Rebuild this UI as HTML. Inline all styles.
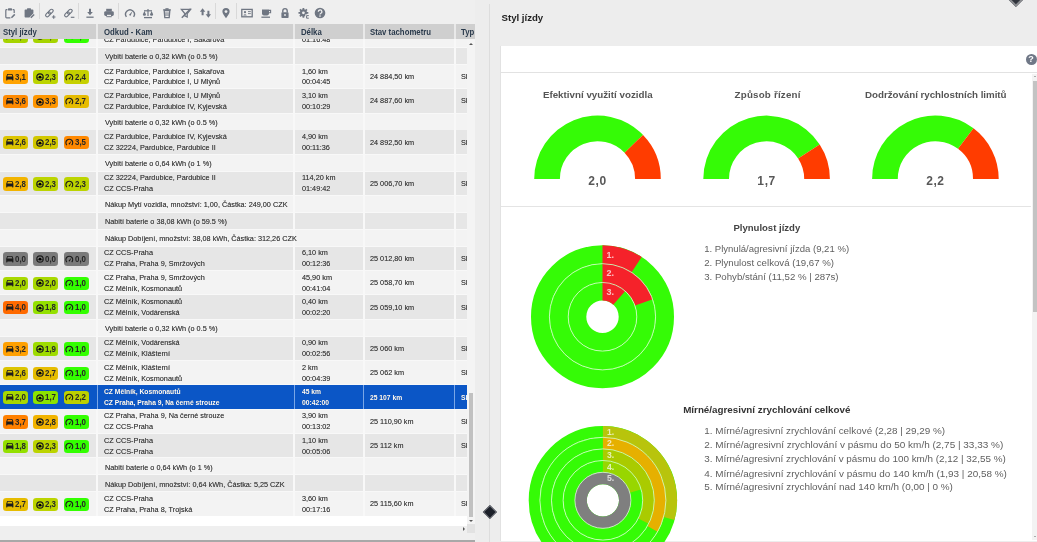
<!DOCTYPE html>
<html><head><meta charset="utf-8"><style>
*{box-sizing:border-box;margin:0;padding:0}
html,body{width:1037px;height:542px;overflow:hidden;background:#efefef;font-family:"Liberation Sans",sans-serif;position:relative}
.abs{position:absolute}
#root{position:absolute;left:0;top:0;width:1037px;height:542px;will-change:transform}
.ti{position:absolute;top:6.8px}
.tsep{position:absolute;top:3.2px;width:1px;height:15.6px;background:#d9d9d9}
#hdr{position:absolute;left:0;top:24.3px;width:475px;height:14.3px;background:#e9e9e9}
.hc{position:absolute;top:0;height:14.3px;background:#cfcfcf;overflow:hidden}
.hc span{position:absolute;top:3.4px;font-weight:bold;font-size:8.4px;color:#2a3a4c;white-space:nowrap;line-height:1;transform:scaleX(0.93);transform-origin:0 0}
#body{position:absolute;left:0;top:38.5px;width:467.3px;height:477.7px;overflow:hidden;background:#f8f8f8}
.row{position:absolute;left:0;width:467px}
.c{position:absolute;top:0;height:100%}
.l .c{background:#f3f3f3}
.d .c{background:#e6e6e6}
.sel{background:#0b56c6}
.sel .c{background:#0b56c6}
.sel .sp{position:absolute;top:0;height:100%;width:1px;background:#7aa6e6}
.t1{position:absolute;font-size:8px;color:#404040;text-shadow:0 0 0.35px rgba(40,40,40,0.6);white-space:nowrap;line-height:1;transform:scaleX(0.91);transform-origin:0 0}
.sel .t1{color:#fff;font-weight:bold;transform:scaleX(0.84)}
.bd{position:absolute;top:5.7px;width:25.2px;height:13.4px;border-radius:3.3px}
.bv{position:absolute;left:11.7px;top:2.3px;font-size:8.8px;font-weight:bold;color:#262626;line-height:1;transform:scaleX(0.9);transform-origin:0 0;white-space:nowrap}
.lg{position:absolute;left:704.2px;color:#5f5f5f;white-space:nowrap;line-height:1}
.dl{font-family:"Liberation Sans",sans-serif;font-weight:bold;fill:#fff;fill-opacity:0.72}
.gt{position:absolute;font-weight:bold;color:#555;white-space:nowrap;line-height:1}
.gv{position:absolute;font-weight:bold;font-size:12px;letter-spacing:0.6px;color:#585858;white-space:nowrap;line-height:1;transform:translateX(-50%)}
</style></head><body><div id="root">
<svg class="ti" style="left:4px" width="12" height="12" viewBox="0 0 12 12"><path d="M3.4 2.6 H2.6 A.8 .8 0 0 0 1.8 3.4 V10 A.8 .8 0 0 0 2.6 10.8 H6.4" fill="none" stroke="#6f7682" stroke-width="1.2"/><path d="M8.6 2.6 H9.4 A.8 .8 0 0 1 10.2 3.4 V6" fill="none" stroke="#6f7682" stroke-width="1.2"/><rect x="4" y="1.3" width="4" height="2.2" rx=".6" fill="#6f7682"/><path d="M7.4 10.8 L10.8 7.4" stroke="#6f7682" stroke-width="1.5"/></svg><svg class="ti" style="left:22.6px" width="12" height="12" viewBox="0 0 12 12"><path d="M1.6 3.2 A.8 .8 0 0 1 2.4 2.4 H9.6 A.8 .8 0 0 1 10.4 3.2 V6.2 L6.4 10.6 H2.4 A.8 .8 0 0 1 1.6 9.8 Z" fill="#6f7682"/><rect x="4" y="1.2" width="4" height="2" rx=".6" fill="#6f7682"/><path d="M7.8 10.8 L11.2 7.4" stroke="#6f7682" stroke-width="1.4"/></svg><svg class="ti" style="left:43.8px" width="12" height="12" viewBox="0 0 12 12"><g transform="rotate(45 5.4 6)"><rect x="3.8" y="1.3" width="3.2" height="5.6" rx="1.6" fill="none" stroke="#6f7682" stroke-width="1.15"/><rect x="3.8" y="5.1" width="3.2" height="5.6" rx="1.6" fill="none" stroke="#6f7682" stroke-width="1.15"/></g><path d="M9.7 8.2 V11.8 M7.9 10 H11.5" stroke="#6f7682" stroke-width="1.15"/></svg><svg class="ti" style="left:63px" width="12" height="12" viewBox="0 0 12 12"><g transform="rotate(45 5.4 6)"><rect x="3.8" y="1.3" width="3.2" height="5.6" rx="1.6" fill="none" stroke="#6f7682" stroke-width="1.15"/><rect x="3.8" y="5.1" width="3.2" height="5.6" rx="1.6" fill="none" stroke="#6f7682" stroke-width="1.15"/></g><path d="M7.8 10.3 H11.4" stroke="#6f7682" stroke-width="1.15"/></svg><svg class="ti" style="left:83.6px" width="12" height="12" viewBox="0 0 12 12"><path d="M6 1.8 V6" stroke="#6f7682" stroke-width="2"/><path d="M3.2 5 L6 8.2 L8.8 5 Z" fill="#6f7682"/><path d="M2.4 10.2 H9.6" stroke="#6f7682" stroke-width="1.3"/></svg><svg class="ti" style="left:102.5px" width="12" height="12" viewBox="0 0 12 12"><rect x="3.2" y="1.8" width="5.6" height="2.8" fill="#6f7682"/><rect x="1.2" y="4.2" width="9.6" height="4.8" rx="1.4" fill="#6f7682"/><rect x="3.4" y="7.4" width="5.2" height="2.8" fill="#6f7682"/><rect x="4" y="7.8" width="4" height="1.4" fill="#efefef"/></svg><svg class="ti" style="left:123.69999999999999px" width="12" height="12" viewBox="0 0 12 12"><path d="M2.4 9.8 A4.4 4.4 0 1 1 9.6 9.8" fill="none" stroke="#6f7682" stroke-width="1.4"/><path d="M4.9 8 L8.6 4 L6.6 8.8 Z" fill="#6f7682"/></svg><svg class="ti" style="left:142.2px" width="12" height="12" viewBox="0 0 12 12"><path d="M6 2 V9" stroke="#6f7682" stroke-width="1.2"/><path d="M2 3.8 H10" stroke="#6f7682" stroke-width="1.2"/><path d="M0.8 7.4 A1.6 1.4 0 0 0 4 7.4 L2.4 4 Z M8 7.4 A1.6 1.4 0 0 0 11.2 7.4 L9.6 4 Z" fill="#6f7682"/><path d="M2 10.6 H10" stroke="#6f7682" stroke-width="1.3"/></svg><svg class="ti" style="left:161.3px" width="12" height="12" viewBox="0 0 12 12"><path d="M3.2 3.6 H8.8 L8.2 10.6 H3.8 Z" fill="none" stroke="#6f7682" stroke-width="1.3"/><path d="M2.2 2.8 H9.8" stroke="#6f7682" stroke-width="1.3"/><rect x="4.4" y="1.2" width="3.2" height="1.4" fill="#6f7682"/><path d="M5 5.2 V9 M7 5.2 V9" stroke="#6f7682" stroke-width="1"/></svg><svg class="ti" style="left:179.9px" width="12" height="12" viewBox="0 0 12 12"><path d="M1.4 2.4 H10.6 L7.2 6.6 V10 L4.8 8.8 V6.6 Z" fill="none" stroke="#6f7682" stroke-width="1.3"/><path d="M1.8 10.8 L10.6 1.8" stroke="#6f7682" stroke-width="1.5"/></svg><svg class="ti" style="left:199.3px" width="12" height="12" viewBox="0 0 12 12"><path d="M3.6 1.2 L0.9 4.8 H2.6 V8.2 H4.6 V4.8 H6.3 Z M8.4 3.8 V7.2 H6.7 L9.4 10.8 L12.1 7.2 H10.4 V3.8 Z" fill="#6f7682"/></svg><svg class="ti" style="left:220px" width="12" height="12" viewBox="0 0 12 12"><path d="M6 11.2 C4 8.4 2.4 6.8 2.4 4.6 A3.6 3.6 0 0 1 9.6 4.6 C9.6 6.8 8 8.4 6 11.2 Z" fill="#6f7682"/><circle cx="6" cy="4.6" r="1.4" fill="#efefef"/></svg><svg class="ti" style="left:241px" width="12" height="12" viewBox="0 0 12 12"><rect x="0.8" y="2.4" width="10.4" height="7.4" fill="none" stroke="#6f7682" stroke-width="1.3"/><circle cx="4" cy="5.2" r="1.1" fill="#6f7682"/><path d="M2.2 8.6 Q4 6 5.8 8.6 Z" fill="#6f7682"/><path d="M7 4.6 H9.8 M7 6.6 H9.8" stroke="#6f7682" stroke-width=".9"/></svg><svg class="ti" style="left:259.7px" width="12" height="12" viewBox="0 0 12 12"><path d="M2 2.4 H9 V6.8 A2 2 0 0 1 7 8.6 H4 A2 2 0 0 1 2 6.8 Z" fill="#6f7682"/><path d="M9 3.4 H10.6 V5.8 H9" fill="none" stroke="#6f7682" stroke-width="1.1"/><path d="M1.4 10.2 H10" stroke="#6f7682" stroke-width="1.3"/></svg><svg class="ti" style="left:279px" width="12" height="12" viewBox="0 0 12 12"><path d="M3.8 5.4 V3.8 A2.2 2.2 0 0 1 8.2 3.8 V5.4" fill="none" stroke="#6f7682" stroke-width="1.4"/><rect x="2.4" y="5.2" width="7.2" height="5.8" rx=".8" fill="#6f7682"/><circle cx="6" cy="8" r=".9" fill="#efefef"/></svg><svg class="ti" style="left:298px" width="12" height="12" viewBox="0 0 12 12"><path d="M4.52 2.21 L4.52 0.88 L6.28 0.88 L6.28 2.21 L7.32 2.64 L8.26 1.70 L9.50 2.94 L8.56 3.88 L8.99 4.92 L10.32 4.92 L10.32 6.68 L8.99 6.68 L8.56 7.72 L9.50 8.66 L8.26 9.90 L7.32 8.96 L6.28 9.39 L6.28 10.72 L4.52 10.72 L4.52 9.39 L3.48 8.96 L2.54 9.90 L1.30 8.66 L2.24 7.72 L1.81 6.68 L0.48 6.68 L0.48 4.92 L1.81 4.92 L2.24 3.88 L1.30 2.94 L2.54 1.70 L3.48 2.64 Z" fill="#6f7682"/><circle cx="5.4" cy="5.8" r="1.4" fill="#efefef"/><rect x="7.2" y="7.4" width="5" height="5" fill="#efefef"/><path d="M10.8 8.6 H8.6 V11.2 H10.8" fill="none" stroke="#6f7682" stroke-width="1"/></svg><svg class="ti" style="left:314.2px" width="12" height="12" viewBox="0 0 12 12"><circle cx="6" cy="6" r="5.3" fill="#6f7682"/><path d="M4.3 4.8 A1.8 1.8 0 1 1 6.6 6.5 Q6 6.8 6 7.6" fill="none" stroke="#efefef" stroke-width="1.3"/><circle cx="6" cy="9.1" r=".8" fill="#efefef"/></svg>
<div class="tsep" style="left:38.6px"></div><div class="tsep" style="left:78.4px"></div><div class="tsep" style="left:118.2px"></div><div class="tsep" style="left:214.8px"></div><div class="tsep" style="left:235.8px"></div>
<div id="hdr">
 <div class="hc" style="left:0;width:95.9px"><span style="left:2.5px">Styl jízdy</span></div>
 <div class="hc" style="left:98.1px;width:195.3px"><span style="left:5.6px">Odkud - Kam</span></div>
 <div class="hc" style="left:295.3px;width:67.4px"><span style="left:5.8px">Délka</span></div>
 <div class="hc" style="left:364.7px;width:89px"><span style="left:5.3px">Stav tachometru</span></div>
 <div class="hc" style="left:455.7px;width:19.1px"><span style="left:5.6px">Typ</span></div>
</div>
<div id="body">
<div class="row l" style="top:-14.95px;height:23.45px"><div class="c" style="left:0px;width:95.9px"></div><div class="c" style="left:98.1px;width:195.29999999999998px"></div><div class="c" style="left:295.3px;width:67.39999999999998px"></div><div class="c" style="left:364.7px;width:89.0px"></div><div class="c" style="left:455.7px;width:11.600000000000023px"></div><div class="bd" style="left:3.3px;background:#a6d400"><svg width="9.6" height="9.6" viewBox="0 0 24 24" style="position:absolute;left:1.3px;top:1.3px"><path fill-rule="evenodd" d="M18.92 6.01C18.72 5.42 18.16 5 17.5 5h-11c-.66 0-1.21.42-1.42 1.01L3 12v8c0 .55.45 1 1 1h1c.55 0 1-.45 1-1v-1h12v1c0 .55.45 1 1 1h1c.55 0 1-.45 1-1v-8l-2.08-5.99zM5.6 11l1.5-4.2h9.8L18.4 11H5.6z" fill="#1c1c1c"/></svg><span class="bv">2,0</span></div><div class="bd" style="left:33.2px;background:#a6d400"><svg width="8" height="8" viewBox="0 0 10 10" style="position:absolute;left:2.7px;top:2.7px"><circle cx="5" cy="5" r="4" fill="none" stroke="#1c1c1c" stroke-width="1.5"/><circle cx="5" cy="5.2" r="1.8" fill="#000"/><path d="M1 6 H3.4 M6.6 6 H9" stroke="#1c1c1c" stroke-width="1"/></svg><span class="bv">2,0</span></div><div class="bd" style="left:63.8px;background:#33ff00"><svg width="8.6" height="8.6" viewBox="0 0 10 10" style="position:absolute;left:1.7px;top:2.4px"><path d="M2.2 8.3 A4 4 0 1 1 7.8 8.3" fill="none" stroke="#1c1c1c" stroke-width="1.3"/><path d="M3.9 6.9 L7.4 3.2 L5.6 7.5 Z" fill="#111"/></svg><span class="bv">1,0</span></div><div class="t1" style="left:104.3px;top:1.70px">CZ Pardubice, Pardubice II</div><div class="t1" style="left:104.3px;top:12.50px">CZ Pardubice, Pardubice I, Sakařova</div><div class="t1" style="left:301.5px;top:1.70px">1,60 km</div><div class="t1" style="left:301.5px;top:12.50px">01:16:48</div></div>
<div class="row d" style="top:9.40px;height:16.00px"><div class="c" style="left:0px;width:95.9px"></div><div class="c" style="left:98.1px;width:195.29999999999998px"></div><div class="c" style="left:295.3px;width:67.39999999999998px"></div><div class="c" style="left:364.7px;width:89.0px"></div><div class="c" style="left:455.7px;width:11.600000000000023px"></div><div class="t1" style="left:104.6px;top:5.45px">Vybití baterie o 0,32 kWh (o 0.5 %)</div></div>
<div class="row l" style="top:26.30px;height:23.45px"><div class="c" style="left:0px;width:95.9px"></div><div class="c" style="left:98.1px;width:195.29999999999998px"></div><div class="c" style="left:295.3px;width:67.39999999999998px"></div><div class="c" style="left:364.7px;width:89.0px"></div><div class="c" style="left:455.7px;width:11.600000000000023px"></div><div class="bd" style="left:3.3px;background:#ffa300"><svg width="9.6" height="9.6" viewBox="0 0 24 24" style="position:absolute;left:1.3px;top:1.3px"><path fill-rule="evenodd" d="M18.92 6.01C18.72 5.42 18.16 5 17.5 5h-11c-.66 0-1.21.42-1.42 1.01L3 12v8c0 .55.45 1 1 1h1c.55 0 1-.45 1-1v-1h12v1c0 .55.45 1 1 1h1c.55 0 1-.45 1-1v-8l-2.08-5.99zM5.6 11l1.5-4.2h9.8L18.4 11H5.6z" fill="#1c1c1c"/></svg><span class="bv">3,1</span></div><div class="bd" style="left:33.2px;background:#bcd400"><svg width="8" height="8" viewBox="0 0 10 10" style="position:absolute;left:2.7px;top:2.7px"><circle cx="5" cy="5" r="4" fill="none" stroke="#1c1c1c" stroke-width="1.5"/><circle cx="5" cy="5.2" r="1.8" fill="#000"/><path d="M1 6 H3.4 M6.6 6 H9" stroke="#1c1c1c" stroke-width="1"/></svg><span class="bv">2,3</span></div><div class="bd" style="left:63.8px;background:#c6d000"><svg width="8.6" height="8.6" viewBox="0 0 10 10" style="position:absolute;left:1.7px;top:2.4px"><path d="M2.2 8.3 A4 4 0 1 1 7.8 8.3" fill="none" stroke="#1c1c1c" stroke-width="1.3"/><path d="M3.9 6.9 L7.4 3.2 L5.6 7.5 Z" fill="#111"/></svg><span class="bv">2,4</span></div><div class="t1" style="left:104.3px;top:2.80px">CZ Pardubice, Pardubice I, Sakařova</div><div class="t1" style="left:104.3px;top:13.60px">CZ Pardubice, Pardubice I, U Mlýnů</div><div class="t1" style="left:301.5px;top:2.80px">1,60 km</div><div class="t1" style="left:301.5px;top:13.60px">00:04:45</div><div class="t1" style="left:370.4px;top:8.20px">24 884,50 km</div><div class="t1" style="left:461.2px;top:8.20px">Sl</div></div>
<div class="row d" style="top:50.65px;height:23.45px"><div class="c" style="left:0px;width:95.9px"></div><div class="c" style="left:98.1px;width:195.29999999999998px"></div><div class="c" style="left:295.3px;width:67.39999999999998px"></div><div class="c" style="left:364.7px;width:89.0px"></div><div class="c" style="left:455.7px;width:11.600000000000023px"></div><div class="bd" style="left:3.3px;background:#ff8a00"><svg width="9.6" height="9.6" viewBox="0 0 24 24" style="position:absolute;left:1.3px;top:1.3px"><path fill-rule="evenodd" d="M18.92 6.01C18.72 5.42 18.16 5 17.5 5h-11c-.66 0-1.21.42-1.42 1.01L3 12v8c0 .55.45 1 1 1h1c.55 0 1-.45 1-1v-1h12v1c0 .55.45 1 1 1h1c.55 0 1-.45 1-1v-8l-2.08-5.99zM5.6 11l1.5-4.2h9.8L18.4 11H5.6z" fill="#1c1c1c"/></svg><span class="bv">3,6</span></div><div class="bd" style="left:33.2px;background:#ff9600"><svg width="8" height="8" viewBox="0 0 10 10" style="position:absolute;left:2.7px;top:2.7px"><circle cx="5" cy="5" r="4" fill="none" stroke="#1c1c1c" stroke-width="1.5"/><circle cx="5" cy="5.2" r="1.8" fill="#000"/><path d="M1 6 H3.4 M6.6 6 H9" stroke="#1c1c1c" stroke-width="1"/></svg><span class="bv">3,3</span></div><div class="bd" style="left:63.8px;background:#e6bc00"><svg width="8.6" height="8.6" viewBox="0 0 10 10" style="position:absolute;left:1.7px;top:2.4px"><path d="M2.2 8.3 A4 4 0 1 1 7.8 8.3" fill="none" stroke="#1c1c1c" stroke-width="1.3"/><path d="M3.9 6.9 L7.4 3.2 L5.6 7.5 Z" fill="#111"/></svg><span class="bv">2,7</span></div><div class="t1" style="left:104.3px;top:2.80px">CZ Pardubice, Pardubice I, U Mlýnů</div><div class="t1" style="left:104.3px;top:13.60px">CZ Pardubice, Pardubice IV, Kyjevská</div><div class="t1" style="left:301.5px;top:2.80px">3,10 km</div><div class="t1" style="left:301.5px;top:13.60px">00:10:29</div><div class="t1" style="left:370.4px;top:8.20px">24 887,60 km</div><div class="t1" style="left:461.2px;top:8.20px">Sl</div></div>
<div class="row l" style="top:75.00px;height:16.00px"><div class="c" style="left:0px;width:95.9px"></div><div class="c" style="left:98.1px;width:195.29999999999998px"></div><div class="c" style="left:295.3px;width:67.39999999999998px"></div><div class="c" style="left:364.7px;width:89.0px"></div><div class="c" style="left:455.7px;width:11.600000000000023px"></div><div class="t1" style="left:104.6px;top:5.45px">Vybití baterie o 0,32 kWh (o 0.5 %)</div></div>
<div class="row d" style="top:91.90px;height:23.45px"><div class="c" style="left:0px;width:95.9px"></div><div class="c" style="left:98.1px;width:195.29999999999998px"></div><div class="c" style="left:295.3px;width:67.39999999999998px"></div><div class="c" style="left:364.7px;width:89.0px"></div><div class="c" style="left:455.7px;width:11.600000000000023px"></div><div class="bd" style="left:3.3px;background:#dcc400"><svg width="9.6" height="9.6" viewBox="0 0 24 24" style="position:absolute;left:1.3px;top:1.3px"><path fill-rule="evenodd" d="M18.92 6.01C18.72 5.42 18.16 5 17.5 5h-11c-.66 0-1.21.42-1.42 1.01L3 12v8c0 .55.45 1 1 1h1c.55 0 1-.45 1-1v-1h12v1c0 .55.45 1 1 1h1c.55 0 1-.45 1-1v-8l-2.08-5.99zM5.6 11l1.5-4.2h9.8L18.4 11H5.6z" fill="#1c1c1c"/></svg><span class="bv">2,6</span></div><div class="bd" style="left:33.2px;background:#d2c800"><svg width="8" height="8" viewBox="0 0 10 10" style="position:absolute;left:2.7px;top:2.7px"><circle cx="5" cy="5" r="4" fill="none" stroke="#1c1c1c" stroke-width="1.5"/><circle cx="5" cy="5.2" r="1.8" fill="#000"/><path d="M1 6 H3.4 M6.6 6 H9" stroke="#1c1c1c" stroke-width="1"/></svg><span class="bv">2,5</span></div><div class="bd" style="left:63.8px;background:#ff8800"><svg width="8.6" height="8.6" viewBox="0 0 10 10" style="position:absolute;left:1.7px;top:2.4px"><path d="M2.2 8.3 A4 4 0 1 1 7.8 8.3" fill="none" stroke="#1c1c1c" stroke-width="1.3"/><path d="M3.9 6.9 L7.4 3.2 L5.6 7.5 Z" fill="#111"/></svg><span class="bv">3,5</span></div><div class="t1" style="left:104.3px;top:2.80px">CZ Pardubice, Pardubice IV, Kyjevská</div><div class="t1" style="left:104.3px;top:13.60px">CZ 32224, Pardubice, Pardubice II</div><div class="t1" style="left:301.5px;top:2.80px">4,90 km</div><div class="t1" style="left:301.5px;top:13.60px">00:11:36</div><div class="t1" style="left:370.4px;top:8.20px">24 892,50 km</div><div class="t1" style="left:461.2px;top:8.20px">Sl</div></div>
<div class="row l" style="top:116.25px;height:16.00px"><div class="c" style="left:0px;width:95.9px"></div><div class="c" style="left:98.1px;width:195.29999999999998px"></div><div class="c" style="left:295.3px;width:67.39999999999998px"></div><div class="c" style="left:364.7px;width:89.0px"></div><div class="c" style="left:455.7px;width:11.600000000000023px"></div><div class="t1" style="left:104.6px;top:5.45px">Vybití baterie o 0,64 kWh (o 1 %)</div></div>
<div class="row d" style="top:133.15px;height:23.45px"><div class="c" style="left:0px;width:95.9px"></div><div class="c" style="left:98.1px;width:195.29999999999998px"></div><div class="c" style="left:295.3px;width:67.39999999999998px"></div><div class="c" style="left:364.7px;width:89.0px"></div><div class="c" style="left:455.7px;width:11.600000000000023px"></div><div class="bd" style="left:3.3px;background:#f2b400"><svg width="9.6" height="9.6" viewBox="0 0 24 24" style="position:absolute;left:1.3px;top:1.3px"><path fill-rule="evenodd" d="M18.92 6.01C18.72 5.42 18.16 5 17.5 5h-11c-.66 0-1.21.42-1.42 1.01L3 12v8c0 .55.45 1 1 1h1c.55 0 1-.45 1-1v-1h12v1c0 .55.45 1 1 1h1c.55 0 1-.45 1-1v-8l-2.08-5.99zM5.6 11l1.5-4.2h9.8L18.4 11H5.6z" fill="#1c1c1c"/></svg><span class="bv">2,8</span></div><div class="bd" style="left:33.2px;background:#bcd400"><svg width="8" height="8" viewBox="0 0 10 10" style="position:absolute;left:2.7px;top:2.7px"><circle cx="5" cy="5" r="4" fill="none" stroke="#1c1c1c" stroke-width="1.5"/><circle cx="5" cy="5.2" r="1.8" fill="#000"/><path d="M1 6 H3.4 M6.6 6 H9" stroke="#1c1c1c" stroke-width="1"/></svg><span class="bv">2,3</span></div><div class="bd" style="left:63.8px;background:#bcd400"><svg width="8.6" height="8.6" viewBox="0 0 10 10" style="position:absolute;left:1.7px;top:2.4px"><path d="M2.2 8.3 A4 4 0 1 1 7.8 8.3" fill="none" stroke="#1c1c1c" stroke-width="1.3"/><path d="M3.9 6.9 L7.4 3.2 L5.6 7.5 Z" fill="#111"/></svg><span class="bv">2,3</span></div><div class="t1" style="left:104.3px;top:2.80px">CZ 32224, Pardubice, Pardubice II</div><div class="t1" style="left:104.3px;top:13.60px">CZ CCS-Praha</div><div class="t1" style="left:301.5px;top:2.80px">114,20 km</div><div class="t1" style="left:301.5px;top:13.60px">01:49:42</div><div class="t1" style="left:370.4px;top:8.20px">25 006,70 km</div><div class="t1" style="left:461.2px;top:8.20px">Sl</div></div>
<div class="row l" style="top:157.50px;height:16.00px"><div class="c" style="left:0px;width:95.9px"></div><div class="c" style="left:98.1px;width:195.29999999999998px"></div><div class="c" style="left:295.3px;width:67.39999999999998px"></div><div class="c" style="left:364.7px;width:89.0px"></div><div class="c" style="left:455.7px;width:11.600000000000023px"></div><div class="t1" style="left:104.6px;top:5.45px">Nákup Mytí vozidla, množství: 1,00, Částka: 249,00 CZK</div></div>
<div class="row d" style="top:174.40px;height:16.00px"><div class="c" style="left:0px;width:95.9px"></div><div class="c" style="left:98.1px;width:195.29999999999998px"></div><div class="c" style="left:295.3px;width:67.39999999999998px"></div><div class="c" style="left:364.7px;width:89.0px"></div><div class="c" style="left:455.7px;width:11.600000000000023px"></div><div class="t1" style="left:104.6px;top:5.45px">Nabití baterie o 38,08 kWh (o 59.5 %)</div></div>
<div class="row l" style="top:191.30px;height:16.00px"><div class="c" style="left:0px;width:95.9px"></div><div class="c" style="left:98.1px;width:195.29999999999998px"></div><div class="c" style="left:295.3px;width:67.39999999999998px"></div><div class="c" style="left:364.7px;width:89.0px"></div><div class="c" style="left:455.7px;width:11.600000000000023px"></div><div class="t1" style="left:104.6px;top:5.45px">Nákup Dobíjení, množství: 38,08 kWh, Částka: 312,26 CZK</div></div>
<div class="row d" style="top:208.20px;height:23.45px"><div class="c" style="left:0px;width:95.9px"></div><div class="c" style="left:98.1px;width:195.29999999999998px"></div><div class="c" style="left:295.3px;width:67.39999999999998px"></div><div class="c" style="left:364.7px;width:89.0px"></div><div class="c" style="left:455.7px;width:11.600000000000023px"></div><div class="bd" style="left:3.3px;background:#7b7b7b"><svg width="9.6" height="9.6" viewBox="0 0 24 24" style="position:absolute;left:1.3px;top:1.3px"><path fill-rule="evenodd" d="M18.92 6.01C18.72 5.42 18.16 5 17.5 5h-11c-.66 0-1.21.42-1.42 1.01L3 12v8c0 .55.45 1 1 1h1c.55 0 1-.45 1-1v-1h12v1c0 .55.45 1 1 1h1c.55 0 1-.45 1-1v-8l-2.08-5.99zM5.6 11l1.5-4.2h9.8L18.4 11H5.6z" fill="#1c1c1c"/></svg><span class="bv">0,0</span></div><div class="bd" style="left:33.2px;background:#7b7b7b"><svg width="8" height="8" viewBox="0 0 10 10" style="position:absolute;left:2.7px;top:2.7px"><circle cx="5" cy="5" r="4" fill="none" stroke="#1c1c1c" stroke-width="1.5"/><circle cx="5" cy="5.2" r="1.8" fill="#000"/><path d="M1 6 H3.4 M6.6 6 H9" stroke="#1c1c1c" stroke-width="1"/></svg><span class="bv">0,0</span></div><div class="bd" style="left:63.8px;background:#7b7b7b"><svg width="8.6" height="8.6" viewBox="0 0 10 10" style="position:absolute;left:1.7px;top:2.4px"><path d="M2.2 8.3 A4 4 0 1 1 7.8 8.3" fill="none" stroke="#1c1c1c" stroke-width="1.3"/><path d="M3.9 6.9 L7.4 3.2 L5.6 7.5 Z" fill="#111"/></svg><span class="bv">0,0</span></div><div class="t1" style="left:104.3px;top:2.80px">CZ CCS-Praha</div><div class="t1" style="left:104.3px;top:13.60px">CZ Praha, Praha 9, Smržových</div><div class="t1" style="left:301.5px;top:2.80px">6,10 km</div><div class="t1" style="left:301.5px;top:13.60px">00:12:36</div><div class="t1" style="left:370.4px;top:8.20px">25 012,80 km</div><div class="t1" style="left:461.2px;top:8.20px">Sl</div></div>
<div class="row l" style="top:232.55px;height:23.45px"><div class="c" style="left:0px;width:95.9px"></div><div class="c" style="left:98.1px;width:195.29999999999998px"></div><div class="c" style="left:295.3px;width:67.39999999999998px"></div><div class="c" style="left:364.7px;width:89.0px"></div><div class="c" style="left:455.7px;width:11.600000000000023px"></div><div class="bd" style="left:3.3px;background:#a8d800"><svg width="9.6" height="9.6" viewBox="0 0 24 24" style="position:absolute;left:1.3px;top:1.3px"><path fill-rule="evenodd" d="M18.92 6.01C18.72 5.42 18.16 5 17.5 5h-11c-.66 0-1.21.42-1.42 1.01L3 12v8c0 .55.45 1 1 1h1c.55 0 1-.45 1-1v-1h12v1c0 .55.45 1 1 1h1c.55 0 1-.45 1-1v-8l-2.08-5.99zM5.6 11l1.5-4.2h9.8L18.4 11H5.6z" fill="#1c1c1c"/></svg><span class="bv">2,0</span></div><div class="bd" style="left:33.2px;background:#a8d800"><svg width="8" height="8" viewBox="0 0 10 10" style="position:absolute;left:2.7px;top:2.7px"><circle cx="5" cy="5" r="4" fill="none" stroke="#1c1c1c" stroke-width="1.5"/><circle cx="5" cy="5.2" r="1.8" fill="#000"/><path d="M1 6 H3.4 M6.6 6 H9" stroke="#1c1c1c" stroke-width="1"/></svg><span class="bv">2,0</span></div><div class="bd" style="left:63.8px;background:#33ff00"><svg width="8.6" height="8.6" viewBox="0 0 10 10" style="position:absolute;left:1.7px;top:2.4px"><path d="M2.2 8.3 A4 4 0 1 1 7.8 8.3" fill="none" stroke="#1c1c1c" stroke-width="1.3"/><path d="M3.9 6.9 L7.4 3.2 L5.6 7.5 Z" fill="#111"/></svg><span class="bv">1,0</span></div><div class="t1" style="left:104.3px;top:2.80px">CZ Praha, Praha 9, Smržových</div><div class="t1" style="left:104.3px;top:13.60px">CZ Mělník, Kosmonautů</div><div class="t1" style="left:301.5px;top:2.80px">45,90 km</div><div class="t1" style="left:301.5px;top:13.60px">00:41:04</div><div class="t1" style="left:370.4px;top:8.20px">25 058,70 km</div><div class="t1" style="left:461.2px;top:8.20px">Sl</div></div>
<div class="row d" style="top:256.90px;height:23.45px"><div class="c" style="left:0px;width:95.9px"></div><div class="c" style="left:98.1px;width:195.29999999999998px"></div><div class="c" style="left:295.3px;width:67.39999999999998px"></div><div class="c" style="left:364.7px;width:89.0px"></div><div class="c" style="left:455.7px;width:11.600000000000023px"></div><div class="bd" style="left:3.3px;background:#ff6a00"><svg width="9.6" height="9.6" viewBox="0 0 24 24" style="position:absolute;left:1.3px;top:1.3px"><path fill-rule="evenodd" d="M18.92 6.01C18.72 5.42 18.16 5 17.5 5h-11c-.66 0-1.21.42-1.42 1.01L3 12v8c0 .55.45 1 1 1h1c.55 0 1-.45 1-1v-1h12v1c0 .55.45 1 1 1h1c.55 0 1-.45 1-1v-8l-2.08-5.99zM5.6 11l1.5-4.2h9.8L18.4 11H5.6z" fill="#1c1c1c"/></svg><span class="bv">4,0</span></div><div class="bd" style="left:33.2px;background:#94e000"><svg width="8" height="8" viewBox="0 0 10 10" style="position:absolute;left:2.7px;top:2.7px"><circle cx="5" cy="5" r="4" fill="none" stroke="#1c1c1c" stroke-width="1.5"/><circle cx="5" cy="5.2" r="1.8" fill="#000"/><path d="M1 6 H3.4 M6.6 6 H9" stroke="#1c1c1c" stroke-width="1"/></svg><span class="bv">1,8</span></div><div class="bd" style="left:63.8px;background:#33ff00"><svg width="8.6" height="8.6" viewBox="0 0 10 10" style="position:absolute;left:1.7px;top:2.4px"><path d="M2.2 8.3 A4 4 0 1 1 7.8 8.3" fill="none" stroke="#1c1c1c" stroke-width="1.3"/><path d="M3.9 6.9 L7.4 3.2 L5.6 7.5 Z" fill="#111"/></svg><span class="bv">1,0</span></div><div class="t1" style="left:104.3px;top:2.80px">CZ Mělník, Kosmonautů</div><div class="t1" style="left:104.3px;top:13.60px">CZ Mělník, Vodárenská</div><div class="t1" style="left:301.5px;top:2.80px">0,40 km</div><div class="t1" style="left:301.5px;top:13.60px">00:02:20</div><div class="t1" style="left:370.4px;top:8.20px">25 059,10 km</div><div class="t1" style="left:461.2px;top:8.20px">Sl</div></div>
<div class="row l" style="top:281.25px;height:16.00px"><div class="c" style="left:0px;width:95.9px"></div><div class="c" style="left:98.1px;width:195.29999999999998px"></div><div class="c" style="left:295.3px;width:67.39999999999998px"></div><div class="c" style="left:364.7px;width:89.0px"></div><div class="c" style="left:455.7px;width:11.600000000000023px"></div><div class="t1" style="left:104.6px;top:5.45px">Vybití baterie o 0,32 kWh (o 0.5 %)</div></div>
<div class="row d" style="top:298.15px;height:23.45px"><div class="c" style="left:0px;width:95.9px"></div><div class="c" style="left:98.1px;width:195.29999999999998px"></div><div class="c" style="left:295.3px;width:67.39999999999998px"></div><div class="c" style="left:364.7px;width:89.0px"></div><div class="c" style="left:455.7px;width:11.600000000000023px"></div><div class="bd" style="left:3.3px;background:#ffa000"><svg width="9.6" height="9.6" viewBox="0 0 24 24" style="position:absolute;left:1.3px;top:1.3px"><path fill-rule="evenodd" d="M18.92 6.01C18.72 5.42 18.16 5 17.5 5h-11c-.66 0-1.21.42-1.42 1.01L3 12v8c0 .55.45 1 1 1h1c.55 0 1-.45 1-1v-1h12v1c0 .55.45 1 1 1h1c.55 0 1-.45 1-1v-8l-2.08-5.99zM5.6 11l1.5-4.2h9.8L18.4 11H5.6z" fill="#1c1c1c"/></svg><span class="bv">3,2</span></div><div class="bd" style="left:33.2px;background:#9edc00"><svg width="8" height="8" viewBox="0 0 10 10" style="position:absolute;left:2.7px;top:2.7px"><circle cx="5" cy="5" r="4" fill="none" stroke="#1c1c1c" stroke-width="1.5"/><circle cx="5" cy="5.2" r="1.8" fill="#000"/><path d="M1 6 H3.4 M6.6 6 H9" stroke="#1c1c1c" stroke-width="1"/></svg><span class="bv">1,9</span></div><div class="bd" style="left:63.8px;background:#33ff00"><svg width="8.6" height="8.6" viewBox="0 0 10 10" style="position:absolute;left:1.7px;top:2.4px"><path d="M2.2 8.3 A4 4 0 1 1 7.8 8.3" fill="none" stroke="#1c1c1c" stroke-width="1.3"/><path d="M3.9 6.9 L7.4 3.2 L5.6 7.5 Z" fill="#111"/></svg><span class="bv">1,0</span></div><div class="t1" style="left:104.3px;top:2.80px">CZ Mělník, Vodárenská</div><div class="t1" style="left:104.3px;top:13.60px">CZ Mělník, Klášterní</div><div class="t1" style="left:301.5px;top:2.80px">0,90 km</div><div class="t1" style="left:301.5px;top:13.60px">00:02:56</div><div class="t1" style="left:370.4px;top:8.20px">25 060 km</div><div class="t1" style="left:461.2px;top:8.20px">Sl</div></div>
<div class="row l" style="top:322.50px;height:23.45px"><div class="c" style="left:0px;width:95.9px"></div><div class="c" style="left:98.1px;width:195.29999999999998px"></div><div class="c" style="left:295.3px;width:67.39999999999998px"></div><div class="c" style="left:364.7px;width:89.0px"></div><div class="c" style="left:455.7px;width:11.600000000000023px"></div><div class="bd" style="left:3.3px;background:#dcc400"><svg width="9.6" height="9.6" viewBox="0 0 24 24" style="position:absolute;left:1.3px;top:1.3px"><path fill-rule="evenodd" d="M18.92 6.01C18.72 5.42 18.16 5 17.5 5h-11c-.66 0-1.21.42-1.42 1.01L3 12v8c0 .55.45 1 1 1h1c.55 0 1-.45 1-1v-1h12v1c0 .55.45 1 1 1h1c.55 0 1-.45 1-1v-8l-2.08-5.99zM5.6 11l1.5-4.2h9.8L18.4 11H5.6z" fill="#1c1c1c"/></svg><span class="bv">2,6</span></div><div class="bd" style="left:33.2px;background:#e6bc00"><svg width="8" height="8" viewBox="0 0 10 10" style="position:absolute;left:2.7px;top:2.7px"><circle cx="5" cy="5" r="4" fill="none" stroke="#1c1c1c" stroke-width="1.5"/><circle cx="5" cy="5.2" r="1.8" fill="#000"/><path d="M1 6 H3.4 M6.6 6 H9" stroke="#1c1c1c" stroke-width="1"/></svg><span class="bv">2,7</span></div><div class="bd" style="left:63.8px;background:#33ff00"><svg width="8.6" height="8.6" viewBox="0 0 10 10" style="position:absolute;left:1.7px;top:2.4px"><path d="M2.2 8.3 A4 4 0 1 1 7.8 8.3" fill="none" stroke="#1c1c1c" stroke-width="1.3"/><path d="M3.9 6.9 L7.4 3.2 L5.6 7.5 Z" fill="#111"/></svg><span class="bv">1,0</span></div><div class="t1" style="left:104.3px;top:2.80px">CZ Mělník, Klášterní</div><div class="t1" style="left:104.3px;top:13.60px">CZ Mělník, Kosmonautů</div><div class="t1" style="left:301.5px;top:2.80px">2 km</div><div class="t1" style="left:301.5px;top:13.60px">00:04:39</div><div class="t1" style="left:370.4px;top:8.20px">25 062 km</div><div class="t1" style="left:461.2px;top:8.20px">Sl</div></div>
<div class="row sel" style="top:346.85px;height:23.45px"><div class="c" style="left:0px;width:95.9px"></div><div class="c" style="left:98.1px;width:195.29999999999998px"></div><div class="c" style="left:295.3px;width:67.39999999999998px"></div><div class="c" style="left:364.7px;width:89.0px"></div><div class="c" style="left:455.7px;width:11.600000000000023px"></div><div class="sp" style="left:96.50px"></div><div class="sp" style="left:293.85px"></div><div class="sp" style="left:363.20px"></div><div class="sp" style="left:454.20px"></div><div class="bd" style="left:3.3px;background:#a8d800"><svg width="9.6" height="9.6" viewBox="0 0 24 24" style="position:absolute;left:1.3px;top:1.3px"><path fill-rule="evenodd" d="M18.92 6.01C18.72 5.42 18.16 5 17.5 5h-11c-.66 0-1.21.42-1.42 1.01L3 12v8c0 .55.45 1 1 1h1c.55 0 1-.45 1-1v-1h12v1c0 .55.45 1 1 1h1c.55 0 1-.45 1-1v-8l-2.08-5.99zM5.6 11l1.5-4.2h9.8L18.4 11H5.6z" fill="#1c1c1c"/></svg><span class="bv">2,0</span></div><div class="bd" style="left:33.2px;background:#8ce400"><svg width="8" height="8" viewBox="0 0 10 10" style="position:absolute;left:2.7px;top:2.7px"><circle cx="5" cy="5" r="4" fill="none" stroke="#1c1c1c" stroke-width="1.5"/><circle cx="5" cy="5.2" r="1.8" fill="#000"/><path d="M1 6 H3.4 M6.6 6 H9" stroke="#1c1c1c" stroke-width="1"/></svg><span class="bv">1,7</span></div><div class="bd" style="left:63.8px;background:#bcd000"><svg width="8.6" height="8.6" viewBox="0 0 10 10" style="position:absolute;left:1.7px;top:2.4px"><path d="M2.2 8.3 A4 4 0 1 1 7.8 8.3" fill="none" stroke="#1c1c1c" stroke-width="1.3"/><path d="M3.9 6.9 L7.4 3.2 L5.6 7.5 Z" fill="#111"/></svg><span class="bv">2,2</span></div><div class="t1" style="left:104.3px;top:2.80px">CZ Mělník, Kosmonautů</div><div class="t1" style="left:104.3px;top:13.60px">CZ Praha, Praha 9, Na černé strouze</div><div class="t1" style="left:301.5px;top:2.80px">45 km</div><div class="t1" style="left:301.5px;top:13.60px">00:42:00</div><div class="t1" style="left:370.4px;top:8.20px">25 107 km</div><div class="t1" style="left:461.2px;top:8.20px">Sl</div></div>
<div class="row l" style="top:371.20px;height:23.45px"><div class="c" style="left:0px;width:95.9px"></div><div class="c" style="left:98.1px;width:195.29999999999998px"></div><div class="c" style="left:295.3px;width:67.39999999999998px"></div><div class="c" style="left:364.7px;width:89.0px"></div><div class="c" style="left:455.7px;width:11.600000000000023px"></div><div class="bd" style="left:3.3px;background:#ff8000"><svg width="9.6" height="9.6" viewBox="0 0 24 24" style="position:absolute;left:1.3px;top:1.3px"><path fill-rule="evenodd" d="M18.92 6.01C18.72 5.42 18.16 5 17.5 5h-11c-.66 0-1.21.42-1.42 1.01L3 12v8c0 .55.45 1 1 1h1c.55 0 1-.45 1-1v-1h12v1c0 .55.45 1 1 1h1c.55 0 1-.45 1-1v-8l-2.08-5.99zM5.6 11l1.5-4.2h9.8L18.4 11H5.6z" fill="#1c1c1c"/></svg><span class="bv">3,7</span></div><div class="bd" style="left:33.2px;background:#f2b400"><svg width="8" height="8" viewBox="0 0 10 10" style="position:absolute;left:2.7px;top:2.7px"><circle cx="5" cy="5" r="4" fill="none" stroke="#1c1c1c" stroke-width="1.5"/><circle cx="5" cy="5.2" r="1.8" fill="#000"/><path d="M1 6 H3.4 M6.6 6 H9" stroke="#1c1c1c" stroke-width="1"/></svg><span class="bv">2,8</span></div><div class="bd" style="left:63.8px;background:#33ff00"><svg width="8.6" height="8.6" viewBox="0 0 10 10" style="position:absolute;left:1.7px;top:2.4px"><path d="M2.2 8.3 A4 4 0 1 1 7.8 8.3" fill="none" stroke="#1c1c1c" stroke-width="1.3"/><path d="M3.9 6.9 L7.4 3.2 L5.6 7.5 Z" fill="#111"/></svg><span class="bv">1,0</span></div><div class="t1" style="left:104.3px;top:2.80px">CZ Praha, Praha 9, Na černé strouze</div><div class="t1" style="left:104.3px;top:13.60px">CZ CCS-Praha</div><div class="t1" style="left:301.5px;top:2.80px">3,90 km</div><div class="t1" style="left:301.5px;top:13.60px">00:13:02</div><div class="t1" style="left:370.4px;top:8.20px">25 110,90 km</div><div class="t1" style="left:461.2px;top:8.20px">Sl</div></div>
<div class="row d" style="top:395.55px;height:23.45px"><div class="c" style="left:0px;width:95.9px"></div><div class="c" style="left:98.1px;width:195.29999999999998px"></div><div class="c" style="left:295.3px;width:67.39999999999998px"></div><div class="c" style="left:364.7px;width:89.0px"></div><div class="c" style="left:455.7px;width:11.600000000000023px"></div><div class="bd" style="left:3.3px;background:#94e000"><svg width="9.6" height="9.6" viewBox="0 0 24 24" style="position:absolute;left:1.3px;top:1.3px"><path fill-rule="evenodd" d="M18.92 6.01C18.72 5.42 18.16 5 17.5 5h-11c-.66 0-1.21.42-1.42 1.01L3 12v8c0 .55.45 1 1 1h1c.55 0 1-.45 1-1v-1h12v1c0 .55.45 1 1 1h1c.55 0 1-.45 1-1v-8l-2.08-5.99zM5.6 11l1.5-4.2h9.8L18.4 11H5.6z" fill="#1c1c1c"/></svg><span class="bv">1,8</span></div><div class="bd" style="left:33.2px;background:#bcd400"><svg width="8" height="8" viewBox="0 0 10 10" style="position:absolute;left:2.7px;top:2.7px"><circle cx="5" cy="5" r="4" fill="none" stroke="#1c1c1c" stroke-width="1.5"/><circle cx="5" cy="5.2" r="1.8" fill="#000"/><path d="M1 6 H3.4 M6.6 6 H9" stroke="#1c1c1c" stroke-width="1"/></svg><span class="bv">2,3</span></div><div class="bd" style="left:63.8px;background:#33ff00"><svg width="8.6" height="8.6" viewBox="0 0 10 10" style="position:absolute;left:1.7px;top:2.4px"><path d="M2.2 8.3 A4 4 0 1 1 7.8 8.3" fill="none" stroke="#1c1c1c" stroke-width="1.3"/><path d="M3.9 6.9 L7.4 3.2 L5.6 7.5 Z" fill="#111"/></svg><span class="bv">1,0</span></div><div class="t1" style="left:104.3px;top:2.80px">CZ CCS-Praha</div><div class="t1" style="left:104.3px;top:13.60px">CZ CCS-Praha</div><div class="t1" style="left:301.5px;top:2.80px">1,10 km</div><div class="t1" style="left:301.5px;top:13.60px">00:05:06</div><div class="t1" style="left:370.4px;top:8.20px">25 112 km</div><div class="t1" style="left:461.2px;top:8.20px">Sl</div></div>
<div class="row l" style="top:419.90px;height:16.00px"><div class="c" style="left:0px;width:95.9px"></div><div class="c" style="left:98.1px;width:195.29999999999998px"></div><div class="c" style="left:295.3px;width:67.39999999999998px"></div><div class="c" style="left:364.7px;width:89.0px"></div><div class="c" style="left:455.7px;width:11.600000000000023px"></div><div class="t1" style="left:104.6px;top:5.45px">Nabití baterie o 0,64 kWh (o 1 %)</div></div>
<div class="row d" style="top:436.80px;height:16.00px"><div class="c" style="left:0px;width:95.9px"></div><div class="c" style="left:98.1px;width:195.29999999999998px"></div><div class="c" style="left:295.3px;width:67.39999999999998px"></div><div class="c" style="left:364.7px;width:89.0px"></div><div class="c" style="left:455.7px;width:11.600000000000023px"></div><div class="t1" style="left:104.6px;top:5.45px">Nákup Dobíjení, množství: 0,64 kWh, Částka: 5,25 CZK</div></div>
<div class="row l" style="top:453.70px;height:23.45px"><div class="c" style="left:0px;width:95.9px"></div><div class="c" style="left:98.1px;width:195.29999999999998px"></div><div class="c" style="left:295.3px;width:67.39999999999998px"></div><div class="c" style="left:364.7px;width:89.0px"></div><div class="c" style="left:455.7px;width:11.600000000000023px"></div><div class="bd" style="left:3.3px;background:#e6bc00"><svg width="9.6" height="9.6" viewBox="0 0 24 24" style="position:absolute;left:1.3px;top:1.3px"><path fill-rule="evenodd" d="M18.92 6.01C18.72 5.42 18.16 5 17.5 5h-11c-.66 0-1.21.42-1.42 1.01L3 12v8c0 .55.45 1 1 1h1c.55 0 1-.45 1-1v-1h12v1c0 .55.45 1 1 1h1c.55 0 1-.45 1-1v-8l-2.08-5.99zM5.6 11l1.5-4.2h9.8L18.4 11H5.6z" fill="#1c1c1c"/></svg><span class="bv">2,7</span></div><div class="bd" style="left:33.2px;background:#bcd400"><svg width="8" height="8" viewBox="0 0 10 10" style="position:absolute;left:2.7px;top:2.7px"><circle cx="5" cy="5" r="4" fill="none" stroke="#1c1c1c" stroke-width="1.5"/><circle cx="5" cy="5.2" r="1.8" fill="#000"/><path d="M1 6 H3.4 M6.6 6 H9" stroke="#1c1c1c" stroke-width="1"/></svg><span class="bv">2,3</span></div><div class="bd" style="left:63.8px;background:#33ff00"><svg width="8.6" height="8.6" viewBox="0 0 10 10" style="position:absolute;left:1.7px;top:2.4px"><path d="M2.2 8.3 A4 4 0 1 1 7.8 8.3" fill="none" stroke="#1c1c1c" stroke-width="1.3"/><path d="M3.9 6.9 L7.4 3.2 L5.6 7.5 Z" fill="#111"/></svg><span class="bv">1,0</span></div><div class="t1" style="left:104.3px;top:2.80px">CZ CCS-Praha</div><div class="t1" style="left:104.3px;top:13.60px">CZ Praha, Praha 8, Trojská</div><div class="t1" style="left:301.5px;top:2.80px">3,60 km</div><div class="t1" style="left:301.5px;top:13.60px">00:17:16</div><div class="t1" style="left:370.4px;top:8.20px">25 115,60 km</div><div class="t1" style="left:461.2px;top:8.20px">Sl</div></div>
</div>
<div class="abs" style="left:467.3px;top:38.6px;width:7.7px;height:487.4px;background:#f4f4f4"></div>
<div class="abs" style="left:469.2px;top:43.2px;width:0;height:0;border-left:2px solid transparent;border-right:2px solid transparent;border-bottom:2px solid #555"></div>
<div class="abs" style="left:468.5px;top:393.4px;width:4.8px;height:124px;background:#c1c1c1"></div>
<div class="abs" style="left:469.2px;top:520px;width:0;height:0;border-left:2px solid transparent;border-right:2px solid transparent;border-top:2px solid #555"></div>
<div class="abs" style="left:0;top:516.2px;width:467px;height:9.8px;background:#fff"></div>
<div class="abs" style="left:0;top:526px;width:467px;height:14px;background:#efefef"></div>
<div class="abs" style="left:462.5px;top:527px;width:0;height:0;border-top:2px solid transparent;border-bottom:2px solid transparent;border-left:2px solid #555"></div>
<div class="abs" style="left:467px;top:524px;width:8px;height:9px;background:#e2e2e2"></div>
<div class="abs" style="left:0;top:540px;width:476px;height:2px;background:#a8a8a8"></div>

<div class="abs" style="left:475px;top:0;width:562px;height:542px;background:#ededed"></div>
<div class="abs" style="left:488.6px;top:4px;width:1.3px;height:538px;background:#dddddd"></div>
<div class="abs" style="left:484.6px;top:507.3px;width:9.8px;height:9.8px;background:#1c2029;transform:rotate(45deg);border:1.8px solid #70737a"></div>
<div class="abs" style="left:1010.6px;top:-4.6px;width:9.8px;height:9.8px;background:#30343c;transform:rotate(45deg);border:2px solid #8a8c90"></div>
<div class="abs" style="left:501.5px;top:13.4px;font-weight:bold;font-size:9.65px;color:#222;line-height:1">Styl jízdy</div>
<div class="abs" style="left:501.2px;top:45.5px;width:536px;height:495px;background:#fff;box-shadow:-0.8px 0 0.8px rgba(0,0,0,0.06)"></div>
<div class="abs" style="left:501.2px;top:71.6px;width:536px;height:1.3px;background:#e2e2e2"></div>
<div class="abs" style="left:1025.6px;top:53.8px;width:11px;height:11px;border-radius:50%;background:#707887;color:#fff;font-weight:bold;font-size:9px;line-height:11px;text-align:center">?</div>
<div class="abs" style="left:501.2px;top:205.6px;width:530px;height:1.3px;background:#e4e4e4"></div>
<div class="abs" style="left:1031.6px;top:74px;width:5.4px;height:466px;background:#f3f3f3"></div>
<div class="abs" style="left:1033.3px;top:80.6px;width:3.7px;height:231.4px;background:#c3c3c3"></div>
<div class="abs" style="left:1033.6px;top:76px;width:0;height:0;border-left:1.6px solid transparent;border-right:1.6px solid transparent;border-bottom:1.6px solid #666"></div>
<div class="abs" style="left:1033.6px;top:536px;width:0;height:0;border-left:1.6px solid transparent;border-right:1.6px solid transparent;border-top:1.6px solid #666"></div>

<div class="gt" style="left:542.90px;top:89.65px;font-size:9.75px;letter-spacing:0.015px">Efektivní využití vozidla</div><div class="gt" style="left:734.60px;top:89.65px;font-size:9.75px;letter-spacing:0.202px">Způsob řízení</div><div class="gt" style="left:865.10px;top:89.65px;font-size:9.75px;letter-spacing:-0.037px">Dodržování rychlostních limitů</div>
<div class="gv" style="left:597.5px;top:174.9px">2,0</div>
<div class="gv" style="left:766.6px;top:174.9px">1,7</div>
<div class="gv" style="left:935.4px;top:174.9px">2,2</div>

<svg class="abs" style="left:0;top:0" width="1037" height="542" viewBox="0 0 1037 542"><path d="M534.20,178.90 A63.3,63.3 0 0 1 643.03,134.93 L624.55,152.78 A37.6,37.6 0 0 0 559.90,178.90 Z" fill="#35fb06"/><path d="M643.03,134.93 A63.3,63.3 0 0 1 660.80,178.90 L635.10,178.90 A37.6,37.6 0 0 0 624.55,152.78 Z" fill="#ff3c00"/><path d="M703.30,178.90 A63.3,63.3 0 0 1 819.69,144.42 L798.13,158.42 A37.6,37.6 0 0 0 729.00,178.90 Z" fill="#35fb06"/><path d="M819.69,144.42 A63.3,63.3 0 0 1 829.90,178.90 L804.20,178.90 A37.6,37.6 0 0 0 798.13,158.42 Z" fill="#ff3c00"/><path d="M872.10,178.90 A63.3,63.3 0 0 1 973.49,128.35 L958.03,148.87 A37.6,37.6 0 0 0 897.80,178.90 Z" fill="#35fb06"/><path d="M973.49,128.35 A63.3,63.3 0 0 1 998.70,178.90 L973.00,178.90 A37.6,37.6 0 0 0 958.03,148.87 Z" fill="#ff3c00"/><circle cx="602.5" cy="316.8" r="62.30" fill="none" stroke="#35fb06" stroke-width="18.40"/><path d="M602.50,245.30 A71.5,71.5 0 0 1 641.65,256.97 L631.58,272.37 A53.1,53.1 0 0 0 602.50,263.70 Z" fill="#f5222a"/><circle cx="602.5" cy="316.8" r="43.70" fill="none" stroke="#35fb06" stroke-width="18.80"/><path d="M602.50,263.70 A53.1,53.1 0 0 1 652.65,299.34 L634.89,305.52 A34.3,34.3 0 0 0 602.50,282.50 Z" fill="#f5222a"/><circle cx="602.5" cy="316.8" r="25.25" fill="none" stroke="#35fb06" stroke-width="18.10"/><path d="M602.50,282.50 A34.3,34.3 0 0 1 625.23,291.11 L613.23,304.67 A16.2,16.2 0 0 0 602.50,300.60 Z" fill="#f5222a"/><circle cx="602.5" cy="316.8" r="53.10" fill="none" stroke="#e8ffe0" stroke-width="0.9" opacity="0.8"/><circle cx="602.5" cy="316.8" r="34.30" fill="none" stroke="#e8ffe0" stroke-width="0.9" opacity="0.8"/><text x="606.50" y="257.74" class="dl" font-size="9">1.</text><text x="606.50" y="276.34" class="dl" font-size="9">2.</text><text x="606.50" y="294.79" class="dl" font-size="9">3.</text><circle cx="602.9" cy="500.3" r="68.60" fill="none" stroke="#35fb06" stroke-width="11.20"/><path d="M602.90,426.10 A74.2,74.2 0 0 1 674.44,520.00 L663.64,517.03 A63.0,63.0 0 0 0 602.90,437.30 Z" fill="#b8c40c"/><circle cx="602.9" cy="500.3" r="57.20" fill="none" stroke="#35fb06" stroke-width="11.60"/><path d="M602.90,437.30 A63.0,63.0 0 0 1 657.46,531.80 L647.41,526.00 A51.4,51.4 0 0 0 602.90,448.90 Z" fill="#e6b000"/><circle cx="602.9" cy="500.3" r="45.60" fill="none" stroke="#35fb06" stroke-width="11.60"/><path d="M602.90,448.90 A51.4,51.4 0 0 1 648.62,523.79 L638.30,518.49 A39.8,39.8 0 0 0 602.90,460.50 Z" fill="#aacb00"/><circle cx="602.9" cy="500.3" r="33.90" fill="none" stroke="#35fb06" stroke-width="11.80"/><path d="M602.90,460.50 A39.8,39.8 0 0 1 641.18,489.40 L629.83,492.63 A28.0,28.0 0 0 0 602.90,472.30 Z" fill="#98d600"/><circle cx="602.9" cy="500.3" r="22.05" fill="none" stroke="#35fb06" stroke-width="11.90"/><circle cx="602.9" cy="500.3" r="22.05" fill="none" stroke="#7f7f7f" stroke-width="11.90"/><circle cx="602.9" cy="500.3" r="63.00" fill="none" stroke="#e8ffe0" stroke-width="0.9" opacity="0.8"/><circle cx="602.9" cy="500.3" r="51.40" fill="none" stroke="#e8ffe0" stroke-width="0.9" opacity="0.8"/><circle cx="602.9" cy="500.3" r="39.80" fill="none" stroke="#e8ffe0" stroke-width="0.9" opacity="0.8"/><circle cx="602.9" cy="500.3" r="28.00" fill="none" stroke="#e8ffe0" stroke-width="0.9" opacity="0.8"/><text x="606.90" y="434.80" class="dl" font-size="8.6">1.</text><text x="606.90" y="446.20" class="dl" font-size="8.6">2.</text><text x="606.90" y="457.80" class="dl" font-size="8.6">3.</text><text x="606.90" y="469.50" class="dl" font-size="8.6">4.</text><text x="606.90" y="481.35" class="dl" font-size="8.6">5.</text></svg>

<div class="abs" style="left:733.4px;top:222.9px;font-weight:bold;font-size:9.55px;color:#444;line-height:1;white-space:nowrap">Plynulost jízdy</div>
<div class="abs" style="left:683.2px;top:404.5px;font-weight:bold;font-size:9.8px;color:#333;line-height:1;white-space:nowrap">Mírné/agresivní zrychlování celkové</div>
<div class="lg" style="top:244.01px;font-size:9.56px">1. Plynulá/agresivní jízda (9,21 %)</div><div class="lg" style="top:257.82px;font-size:9.66px">2. Plynulost celková (19,67 %)</div><div class="lg" style="top:272.22px;font-size:9.67px">3. Pohyb/stání (11,52 % | 287s)</div><div class="lg" style="top:425.93px;font-size:9.88px">1. Mírné/agresivní zrychlování celkové (2,28 | 29,29 %)</div><div class="lg" style="top:440.25px;font-size:9.98px">2. Mírné/agresivní zrychlování v pásmu do 50 km/h (2,75 | 33,33 %)</div><div class="lg" style="top:454.42px;font-size:9.90px">3. Mírné/agresivní zrychlování v pásmu do 100 km/h (2,12 | 32,55 %)</div><div class="lg" style="top:468.50px;font-size:9.92px">4. Mírné/agresivní zrychlování v pásmu do 140 km/h (1,93 | 20,58 %)</div><div class="lg" style="top:482.30px;font-size:9.92px">5. Mírné/agresivní zrychlování nad 140 km/h (0,00 | 0 %)</div>
</div></body></html>
